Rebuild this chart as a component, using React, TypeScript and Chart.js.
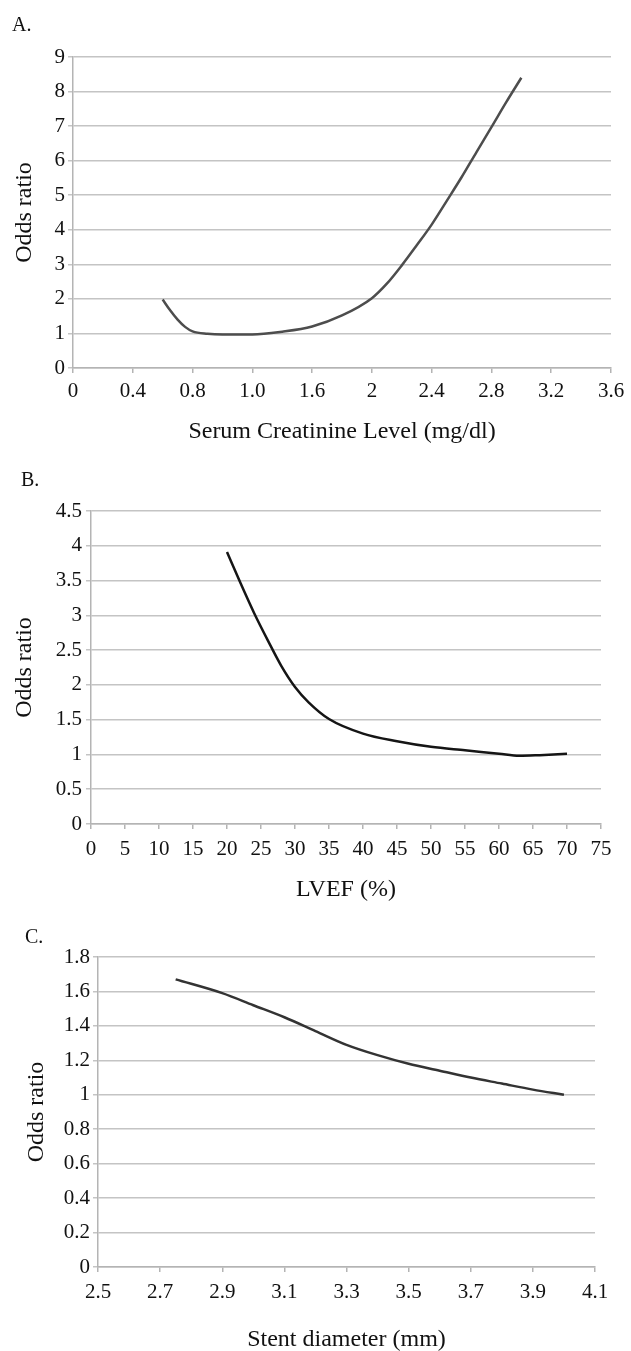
import React, { useEffect, useRef } from "react";
import { Chart, registerables } from "chart.js";

Chart.register(...registerables);

const FONT = '"Liberation Serif", "Times New Roman", Times, serif';

// ---- Chart A: Serum creatinine ----
const creatinineTickLabels = ["0", "0.4", "0.8", "1.0", "1.6", "2", "2.4", "2.8", "3.2", "3.6"];
const creatinineX = [0.6, 0.65, 0.7, 0.75, 0.8, 0.9, 1.0, 1.2, 1.4, 1.6, 1.8, 2.0, 2.1, 2.2, 2.3, 2.4, 2.5, 2.6, 2.7, 2.8, 2.9, 3.0];
const creatinineOR = [1.98, 1.67, 1.4, 1.19, 1.06, 0.99, 0.97, 0.97, 1.05, 1.2, 1.52, 2.02, 2.44, 2.97, 3.55, 4.15, 4.83, 5.52, 6.25, 6.97, 7.7, 8.4];
const creatinineYLabels = ["0", "1", "2", "3", "4", "5", "6", "7", "8", "9"];

// ---- Chart B: LVEF ----
const lvefTickLabels = ["0", "5", "10", "15", "20", "25", "30", "35", "40", "45", "50", "55", "60", "65", "70", "75"];
const lvefX = [20, 22, 24, 26, 28, 30, 32, 35, 40, 45, 50, 55, 60, 63, 66, 70];
const lvefOR = [3.91, 3.46, 3.03, 2.64, 2.27, 1.97, 1.75, 1.51, 1.3, 1.19, 1.11, 1.06, 1.01, 0.98, 0.99, 1.01];
const lvefYLabels = ["0", "0.5", "1", "1.5", "2", "2.5", "3", "3.5", "4", "4.5"];

// ---- Chart C: Stent diameter ----
const stentTickLabels = ["2.5", "2.7", "2.9", "3.1", "3.3", "3.5", "3.7", "3.9", "4.1"];
const stentX = [2.75, 2.9, 3.0, 3.1, 3.2, 3.3, 3.4, 3.5, 3.6, 3.7, 3.8, 3.9, 4.0];
const stentOR = [1.67, 1.59, 1.52, 1.45, 1.37, 1.29, 1.23, 1.18, 1.14, 1.1, 1.065, 1.03, 1.0];
const stentYLabels = ["0", "0.2", "0.4", "0.6", "0.8", "1", "1.2", "1.4", "1.6", "1.8"];

type PanelOpts = {
  xs: number[];
  ys: number[];
  color: string;
  xMin: number;
  xMax: number;
  xStep: number;
  xLabels: string[];
  yMin: number;
  yMax: number;
  yStep: number;
  yLabels: string[];
  xTitle: string;
  yWidth: number;
  xHeight: number;
  padTop: number;
  padRight: number;
  xTickPad: number;
  yTickPad: number;
  xTitlePadBottom: number;
  xTitleLineHeight: number;
  yTitlePadTop: number;
};

function makeConfig(p: PanelOpts): any {
  const gridColor = "#c4c4c4";
  const axisColor = "#b4b4b4";
  return {
    type: "line",
    data: {
      datasets: [
        {
          data: p.xs.map((x, i) => ({ x, y: p.ys[i] })),
          borderColor: p.color,
          borderWidth: 2.5,
          pointRadius: 0,
          fill: false,
          cubicInterpolationMode: "monotone",
        },
      ],
    },
    options: {
      animation: false,
      responsive: false,
      maintainAspectRatio: false,
      layout: { padding: { top: p.padTop, right: p.padRight, left: 0, bottom: 0 } },
      plugins: { legend: { display: false }, tooltip: { enabled: false }, title: { display: false } },
      scales: {
        x: {
          type: "linear",
          min: p.xMin,
          max: p.xMax,
          afterFit: (s: any) => {
            s.height = p.xHeight;
          },
          ticks: {
            stepSize: p.xStep,
            autoSkip: false,
            maxRotation: 0,
            minRotation: 0,
            padding: p.xTickPad,
            color: "#111",
            font: { family: FONT, size: 21 },
            callback: (_v: any, i: number) => p.xLabels[i],
          },
          grid: {
            drawOnChartArea: false,
            drawTicks: true,
            tickLength: 5,
            color: axisColor,
            lineWidth: 1.5,
          },
          border: { display: true, color: axisColor, width: 1.5 },
          title: {
            display: true,
            text: p.xTitle,
            color: "#111",
            font: { family: FONT, size: 24, lineHeight: p.xTitleLineHeight },
            padding: { top: 0, bottom: p.xTitlePadBottom },
          },
        },
        y: {
          type: "linear",
          min: p.yMin,
          max: p.yMax,
          afterFit: (s: any) => {
            s.width = p.yWidth;
          },
          ticks: {
            stepSize: p.yStep,
            padding: p.yTickPad,
            color: "#111",
            font: { family: FONT, size: 21 },
            callback: (_v: any, i: number) => p.yLabels[i],
          },
          grid: {
            drawOnChartArea: true,
            drawTicks: true,
            tickLength: 5,
            color: gridColor,
            lineWidth: 1.5,
          },
          border: { display: true, color: axisColor, width: 1.5 },
          title: {
            display: true,
            text: "Odds ratio",
            color: "#111",
            font: { family: FONT, size: 24 },
            padding: { top: p.yTitlePadTop, bottom: 0 },
          },
        },
      },
    },
  };
}

function Panel(props: { top: number; height: number; opts: PanelOpts }) {
  const ref = useRef<HTMLCanvasElement | null>(null);
  useEffect(() => {
    if (!ref.current) return;
    const chart = new Chart(ref.current, makeConfig(props.opts));
    return () => chart.destroy();
  }, []);
  return (
    <canvas
      ref={ref}
      width={631}
      height={props.height}
      style={{ position: "absolute", left: 0, top: props.top, width: 631, height: props.height }}
    />
  );
}

const letterStyle = (left: number, top: number): React.CSSProperties => ({
  position: "absolute",
  left,
  top,
  fontFamily: FONT,
  fontSize: 20,
  lineHeight: 1,
  color: "#111",
});

export default function App() {
  const optsA: PanelOpts = {
    xs: creatinineX,
    ys: creatinineOR,
    color: "#4d4d4d",
    xMin: 0,
    xMax: 3.6,
    xStep: 0.4,
    xLabels: creatinineTickLabels,
    yMin: 0,
    yMax: 9,
    yStep: 1,
    yLabels: creatinineYLabels,
    xTitle: "Serum Creatinine Level (mg/dl)",
    yWidth: 73,
    xHeight: 92,
    padTop: 57,
    padRight: 20,
    xTickPad: 6,
    yTickPad: 3,
    xTitlePadBottom: 14,
    xTitleLineHeight: 1.2,
    yTitlePadTop: 10,
  };
  const optsB: PanelOpts = {
    xs: lvefX,
    ys: lvefOR,
    color: "#151515",
    xMin: 0,
    xMax: 75,
    xStep: 5,
    xLabels: lvefTickLabels,
    yMin: 0,
    yMax: 4.5,
    yStep: 0.5,
    yLabels: lvefYLabels,
    xTitle: "LVEF (%)",
    yWidth: 91,
    xHeight: 86,
    padTop: 51,
    padRight: 30,
    xTickPad: 8,
    yTickPad: 4,
    xTitlePadBottom: 6,
    xTitleLineHeight: 1.2,
    yTitlePadTop: 10,
  };
  const optsC: PanelOpts = {
    xs: stentX,
    ys: stentOR,
    color: "#333333",
    xMin: 2.5,
    xMax: 4.1,
    xStep: 0.2,
    xLabels: stentTickLabels,
    yMin: 0,
    yMax: 1.8,
    yStep: 0.2,
    yLabels: stentYLabels,
    xTitle: "Stent diameter (mm)",
    yWidth: 98,
    xHeight: 84,
    padTop: 47,
    padRight: 36,
    xTickPad: 8,
    yTickPad: 3,
    xTitlePadBottom: -1,
    xTitleLineHeight: 1,
    yTitlePadTop: 22,
  };
  return (
    <div style={{ position: "absolute", left: 0, top: 0, width: 631, height: 1351, overflow: "hidden", background: "#fff" }}>
      <Panel top={0} height={460} opts={optsA} />
      <Panel top={460} height={450} opts={optsB} />
      <Panel top={910} height={441} opts={optsC} />
      <div style={letterStyle(12, 14)}>A.</div>
      <div style={letterStyle(21, 469)}>B.</div>
      <div style={letterStyle(25, 926)}>C.</div>
    </div>
  );
}
